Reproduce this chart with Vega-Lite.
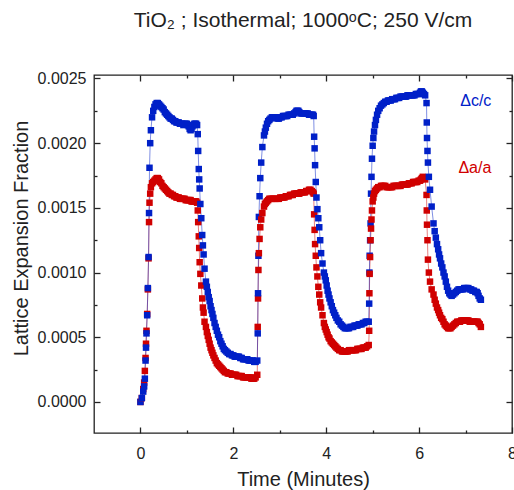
{
  "$schema": "https://vega.github.io/schema/vega-lite/v6.json",
  "width": 418,
  "height": 358,
  "autosize": {"type": "none"},
  "padding": {"left": 94, "top": 75, "right": 2, "bottom": 57},
  "config": {
    "view": {"stroke": "#222", "strokeWidth": 1.3},
    "font": "Liberation Sans",
    "axis": {"grid": false, "domain": false, "labelFont": "Liberation Sans", "titleFont": "Liberation Sans", "labelColor": "#222", "titleColor": "#222", "tickColor": "#222", "tickWidth": 1.3, "titleFontWeight": "normal"}
  },
  "title": {"text": "TiO₂ ; Isothermal; 1000ᵒC; 250 V/cm", "fontSize": 21, "fontWeight": "normal", "color": "#222", "anchor": "middle", "baseline": "alphabetic", "frame": "group", "offset": 22},
  "datasets": {
    "main": [
      {"t":0.00,"c":0.00000,"a":0.00000},
      {"t":0.03,"c":0.00003,"a":0.00003},
      {"t":0.06,"c":0.00008,"a":0.00010},
      {"t":0.08,"c":0.00012,"a":0.00015},
      {"t":0.095,"c":0.00018,"a":0.00024},
      {"t":0.11,"c":0.00032,"a":0.00034},
      {"t":0.12,"c":0.00042,"a":0.00045},
      {"t":0.13,"c":0.00053,"a":0.00055},
      {"t":0.145,"c":0.00067,"a":0.00068},
      {"t":0.16,"c":0.00088,"a":0.00087},
      {"t":0.175,"c":0.00112,"a":0.00111},
      {"t":0.185,"c":0.00146,"a":0.00139},
      {"t":0.195,"c":0.00181,"a":0.00154},
      {"t":0.21,"c":0.00200,"a":0.00161},
      {"t":0.225,"c":0.00210,"a":0.00166},
      {"t":0.25,"c":0.00220,"a":0.00169},
      {"t":0.275,"c":0.00225,"a":0.00170},
      {"t":0.30,"c":0.00228,"a":0.00171},
      {"t":0.325,"c":0.00230,"a":0.00172},
      {"t":0.35,"c":0.00231,"a":0.00173},
      {"t":0.375,"c":0.00231,"a":0.00173},
      {"t":0.40,"c":0.00230,"a":0.00172},
      {"t":0.425,"c":0.00229,"a":0.00170},
      {"t":0.45,"c":0.00228,"a":0.00169},
      {"t":0.475,"c":0.00227,"a":0.00167},
      {"t":0.50,"c":0.00226,"a":0.00166},
      {"t":0.525,"c":0.00224,"a":0.00165},
      {"t":0.55,"c":0.00223,"a":0.00164},
      {"t":0.575,"c":0.00222,"a":0.00163},
      {"t":0.60,"c":0.00221,"a":0.00162},
      {"t":0.625,"c":0.00220,"a":0.00161},
      {"t":0.65,"c":0.00219,"a":0.00161},
      {"t":0.675,"c":0.00219,"a":0.00160},
      {"t":0.70,"c":0.00218,"a":0.00160},
      {"t":0.725,"c":0.00217,"a":0.00159},
      {"t":0.75,"c":0.00217,"a":0.00159},
      {"t":0.775,"c":0.00216,"a":0.00158},
      {"t":0.80,"c":0.00216,"a":0.00158},
      {"t":0.825,"c":0.00216,"a":0.00158},
      {"t":0.85,"c":0.00215,"a":0.00157},
      {"t":0.875,"c":0.00215,"a":0.00157},
      {"t":0.90,"c":0.00215,"a":0.00157},
      {"t":0.925,"c":0.00214,"a":0.00157},
      {"t":0.95,"c":0.00215,"a":0.00157},
      {"t":0.975,"c":0.00215,"a":0.00156},
      {"t":1.00,"c":0.00215,"a":0.00156},
      {"t":1.02,"c":0.00214,"a":0.00156},
      {"t":1.04,"c":0.00213,"a":0.00156},
      {"t":1.06,"c":0.00211,"a":0.00156},
      {"t":1.08,"c":0.00210,"a":0.00156},
      {"t":1.10,"c":0.00211,"a":0.00155},
      {"t":1.12,"c":0.00213,"a":0.00155},
      {"t":1.14,"c":0.00214,"a":0.00155},
      {"t":1.16,"c":0.00215,"a":0.00155},
      {"t":1.18,"c":0.00215,"a":0.00155},
      {"t":1.20,"c":0.00215,"a":0.00155},
      {"t":1.22,"c":0.00214,"a":0.00154},
      {"t":1.234,"c":0.00207,"a":0.00148},
      {"t":1.243,"c":0.00194,"a":0.00139},
      {"t":1.256,"c":0.00180,"a":0.00128},
      {"t":1.265,"c":0.00172,"a":0.00119},
      {"t":1.275,"c":0.00165,"a":0.00108},
      {"t":1.29,"c":0.00153,"a":0.00099},
      {"t":1.31,"c":0.00142,"a":0.00090},
      {"t":1.33,"c":0.00129,"a":0.00080},
      {"t":1.345,"c":0.00121,"a":0.00073},
      {"t":1.36,"c":0.00114,"a":0.00069},
      {"t":1.38,"c":0.00103,"a":0.00062},
      {"t":1.41,"c":0.00093,"a":0.00058},
      {"t":1.43,"c":0.00089,"a":0.00054},
      {"t":1.45,"c":0.00085,"a":0.00051},
      {"t":1.47,"c":0.00081,"a":0.00048},
      {"t":1.49,"c":0.00078,"a":0.00045},
      {"t":1.51,"c":0.00074,"a":0.00042},
      {"t":1.53,"c":0.00071,"a":0.00040},
      {"t":1.55,"c":0.00068,"a":0.00038},
      {"t":1.57,"c":0.00065,"a":0.00036},
      {"t":1.595,"c":0.00061,"a":0.00034},
      {"t":1.62,"c":0.00058,"a":0.00032},
      {"t":1.645,"c":0.00055,"a":0.00030},
      {"t":1.67,"c":0.00052,"a":0.00029},
      {"t":1.695,"c":0.00050,"a":0.00028},
      {"t":1.72,"c":0.00047,"a":0.00027},
      {"t":1.745,"c":0.00045,"a":0.00026},
      {"t":1.77,"c":0.00043,"a":0.00025},
      {"t":1.795,"c":0.00041,"a":0.00024},
      {"t":1.82,"c":0.00040,"a":0.00023},
      {"t":1.85,"c":0.00039,"a":0.00023},
      {"t":1.88,"c":0.00038,"a":0.00022},
      {"t":1.91,"c":0.00037,"a":0.00022},
      {"t":1.94,"c":0.00037,"a":0.00022},
      {"t":1.97,"c":0.00036,"a":0.00021},
      {"t":2.00,"c":0.00036,"a":0.00021},
      {"t":2.03,"c":0.00035,"a":0.00021},
      {"t":2.06,"c":0.00035,"a":0.00021},
      {"t":2.09,"c":0.00035,"a":0.00020},
      {"t":2.12,"c":0.00035,"a":0.00020},
      {"t":2.15,"c":0.00034,"a":0.00020},
      {"t":2.18,"c":0.00034,"a":0.00020},
      {"t":2.21,"c":0.00033,"a":0.00019},
      {"t":2.24,"c":0.00033,"a":0.00019},
      {"t":2.27,"c":0.00033,"a":0.00019},
      {"t":2.30,"c":0.00033,"a":0.00019},
      {"t":2.33,"c":0.00032,"a":0.00019},
      {"t":2.36,"c":0.00032,"a":0.00019},
      {"t":2.39,"c":0.00032,"a":0.00018},
      {"t":2.42,"c":0.00032,"a":0.00018},
      {"t":2.45,"c":0.00031,"a":0.00018},
      {"t":2.48,"c":0.00031,"a":0.00019},
      {"t":2.515,"c":0.00032,"a":0.00021},
      {"t":2.525,"c":0.00053,"a":0.00058},
      {"t":2.532,"c":0.00084,"a":0.00080},
      {"t":2.54,"c":0.00113,"a":0.00102},
      {"t":2.55,"c":0.00143,"a":0.00115},
      {"t":2.565,"c":0.00159,"a":0.00126},
      {"t":2.58,"c":0.00173,"a":0.00135},
      {"t":2.60,"c":0.00185,"a":0.00141},
      {"t":2.625,"c":0.00197,"a":0.00146},
      {"t":2.66,"c":0.00206,"a":0.00151},
      {"t":2.68,"c":0.00209,"a":0.00153},
      {"t":2.70,"c":0.00212,"a":0.00154},
      {"t":2.725,"c":0.00215,"a":0.00155},
      {"t":2.75,"c":0.00217,"a":0.00156},
      {"t":2.775,"c":0.00218,"a":0.00157},
      {"t":2.80,"c":0.00219,"a":0.00157},
      {"t":2.83,"c":0.00220,"a":0.00157},
      {"t":2.86,"c":0.00220,"a":0.00157},
      {"t":2.89,"c":0.00220,"a":0.00157},
      {"t":2.92,"c":0.00220,"a":0.00157},
      {"t":2.95,"c":0.00219,"a":0.00157},
      {"t":2.98,"c":0.00219,"a":0.00157},
      {"t":3.01,"c":0.00220,"a":0.00158},
      {"t":3.04,"c":0.00220,"a":0.00158},
      {"t":3.07,"c":0.00221,"a":0.00158},
      {"t":3.10,"c":0.00221,"a":0.00158},
      {"t":3.13,"c":0.00221,"a":0.00159},
      {"t":3.16,"c":0.00221,"a":0.00159},
      {"t":3.19,"c":0.00222,"a":0.00159},
      {"t":3.22,"c":0.00222,"a":0.00160},
      {"t":3.25,"c":0.00222,"a":0.00160},
      {"t":3.28,"c":0.00222,"a":0.00160},
      {"t":3.31,"c":0.00223,"a":0.00161},
      {"t":3.34,"c":0.00224,"a":0.00161},
      {"t":3.36,"c":0.00225,"a":0.00161},
      {"t":3.38,"c":0.00225,"a":0.00161},
      {"t":3.40,"c":0.00225,"a":0.00161},
      {"t":3.42,"c":0.00224,"a":0.00161},
      {"t":3.45,"c":0.00223,"a":0.00162},
      {"t":3.48,"c":0.00223,"a":0.00162},
      {"t":3.51,"c":0.00223,"a":0.00162},
      {"t":3.54,"c":0.00223,"a":0.00162},
      {"t":3.57,"c":0.00223,"a":0.00163},
      {"t":3.60,"c":0.00223,"a":0.00163},
      {"t":3.63,"c":0.00222,"a":0.00164},
      {"t":3.66,"c":0.00222,"a":0.00164},
      {"t":3.69,"c":0.00222,"a":0.00163},
      {"t":3.715,"c":0.00222,"a":0.00162},
      {"t":3.73,"c":0.00221,"a":0.00161},
      {"t":3.74,"c":0.00205,"a":0.00145},
      {"t":3.75,"c":0.00196,"a":0.00133},
      {"t":3.76,"c":0.00183,"a":0.00122},
      {"t":3.775,"c":0.00170,"a":0.00113},
      {"t":3.79,"c":0.00158,"a":0.00104},
      {"t":3.81,"c":0.00149,"a":0.00097},
      {"t":3.83,"c":0.00142,"a":0.00089},
      {"t":3.85,"c":0.00135,"a":0.00083},
      {"t":3.87,"c":0.00125,"a":0.00077},
      {"t":3.89,"c":0.00115,"a":0.00073},
      {"t":3.92,"c":0.00107,"a":0.00067},
      {"t":3.95,"c":0.00100,"a":0.00061},
      {"t":3.97,"c":0.00097,"a":0.00058},
      {"t":3.99,"c":0.00094,"a":0.00056},
      {"t":4.01,"c":0.00090,"a":0.00054},
      {"t":4.03,"c":0.00086,"a":0.00052},
      {"t":4.05,"c":0.00083,"a":0.00050},
      {"t":4.07,"c":0.00080,"a":0.00049},
      {"t":4.095,"c":0.00077,"a":0.00047},
      {"t":4.12,"c":0.00074,"a":0.00046},
      {"t":4.145,"c":0.00071,"a":0.00045},
      {"t":4.17,"c":0.00069,"a":0.00044},
      {"t":4.195,"c":0.00067,"a":0.00043},
      {"t":4.22,"c":0.00065,"a":0.00042},
      {"t":4.25,"c":0.00063,"a":0.00041},
      {"t":4.28,"c":0.00062,"a":0.00040},
      {"t":4.31,"c":0.00060,"a":0.00040},
      {"t":4.34,"c":0.00059,"a":0.00039},
      {"t":4.37,"c":0.00058,"a":0.00039},
      {"t":4.40,"c":0.00057,"a":0.00039},
      {"t":4.43,"c":0.00057,"a":0.00039},
      {"t":4.46,"c":0.00057,"a":0.00039},
      {"t":4.49,"c":0.00057,"a":0.00040},
      {"t":4.52,"c":0.00058,"a":0.00040},
      {"t":4.55,"c":0.00058,"a":0.00040},
      {"t":4.58,"c":0.00058,"a":0.00040},
      {"t":4.61,"c":0.00059,"a":0.00040},
      {"t":4.64,"c":0.00059,"a":0.00040},
      {"t":4.67,"c":0.00059,"a":0.00041},
      {"t":4.70,"c":0.00060,"a":0.00041},
      {"t":4.73,"c":0.00060,"a":0.00041},
      {"t":4.76,"c":0.00060,"a":0.00041},
      {"t":4.79,"c":0.00061,"a":0.00042},
      {"t":4.82,"c":0.00061,"a":0.00042},
      {"t":4.85,"c":0.00062,"a":0.00042},
      {"t":4.88,"c":0.00062,"a":0.00043},
      {"t":4.915,"c":0.00062,"a":0.00044},
      {"t":4.925,"c":0.00076,"a":0.00055},
      {"t":4.93,"c":0.00100,"a":0.00084},
      {"t":4.935,"c":0.00113,"a":0.00099},
      {"t":4.945,"c":0.00125,"a":0.00112},
      {"t":4.955,"c":0.00138,"a":0.00125},
      {"t":4.965,"c":0.00161,"a":0.00134},
      {"t":4.975,"c":0.00174,"a":0.00141},
      {"t":4.985,"c":0.00188,"a":0.00148},
      {"t":5.00,"c":0.00198,"a":0.00155},
      {"t":5.015,"c":0.00204,"a":0.00158},
      {"t":5.03,"c":0.00209,"a":0.00161},
      {"t":5.05,"c":0.00214,"a":0.00163},
      {"t":5.07,"c":0.00218,"a":0.00164},
      {"t":5.095,"c":0.00222,"a":0.00165},
      {"t":5.12,"c":0.00225,"a":0.00166},
      {"t":5.15,"c":0.00227,"a":0.00166},
      {"t":5.18,"c":0.00229,"a":0.00167},
      {"t":5.21,"c":0.00230,"a":0.00167},
      {"t":5.24,"c":0.00231,"a":0.00167},
      {"t":5.27,"c":0.00232,"a":0.00167},
      {"t":5.30,"c":0.00232,"a":0.00166},
      {"t":5.33,"c":0.00233,"a":0.00166},
      {"t":5.36,"c":0.00233,"a":0.00166},
      {"t":5.39,"c":0.00233,"a":0.00166},
      {"t":5.42,"c":0.00234,"a":0.00166},
      {"t":5.45,"c":0.00234,"a":0.00167},
      {"t":5.48,"c":0.00234,"a":0.00167},
      {"t":5.51,"c":0.00235,"a":0.00167},
      {"t":5.54,"c":0.00235,"a":0.00167},
      {"t":5.57,"c":0.00235,"a":0.00167},
      {"t":5.60,"c":0.00236,"a":0.00167},
      {"t":5.63,"c":0.00236,"a":0.00168},
      {"t":5.66,"c":0.00236,"a":0.00168},
      {"t":5.69,"c":0.00236,"a":0.00168},
      {"t":5.72,"c":0.00236,"a":0.00168},
      {"t":5.75,"c":0.00237,"a":0.00168},
      {"t":5.78,"c":0.00237,"a":0.00169},
      {"t":5.81,"c":0.00237,"a":0.00169},
      {"t":5.84,"c":0.00237,"a":0.00169},
      {"t":5.87,"c":0.00237,"a":0.00170},
      {"t":5.90,"c":0.00237,"a":0.00170},
      {"t":5.93,"c":0.00238,"a":0.00170},
      {"t":5.96,"c":0.00238,"a":0.00170},
      {"t":5.99,"c":0.00238,"a":0.00171},
      {"t":6.02,"c":0.00239,"a":0.00171},
      {"t":6.04,"c":0.00240,"a":0.00172},
      {"t":6.06,"c":0.00240,"a":0.00173},
      {"t":6.08,"c":0.00239,"a":0.00174},
      {"t":6.105,"c":0.00238,"a":0.00173},
      {"t":6.13,"c":0.00237,"a":0.00172},
      {"t":6.16,"c":0.00231,"a":0.00160},
      {"t":6.165,"c":0.00216,"a":0.00148},
      {"t":6.17,"c":0.00204,"a":0.00137},
      {"t":6.18,"c":0.00194,"a":0.00125},
      {"t":6.19,"c":0.00185,"a":0.00110},
      {"t":6.21,"c":0.00174,"a":0.00100},
      {"t":6.235,"c":0.00164,"a":0.00093},
      {"t":6.27,"c":0.00151,"a":0.00087},
      {"t":6.31,"c":0.00138,"a":0.00083},
      {"t":6.335,"c":0.00132,"a":0.00079},
      {"t":6.36,"c":0.00127,"a":0.00076},
      {"t":6.385,"c":0.00122,"a":0.00073},
      {"t":6.41,"c":0.00118,"a":0.00071},
      {"t":6.43,"c":0.00114,"a":0.00069},
      {"t":6.45,"c":0.00111,"a":0.00067},
      {"t":6.475,"c":0.00107,"a":0.00065},
      {"t":6.50,"c":0.00104,"a":0.00064},
      {"t":6.525,"c":0.00100,"a":0.00062},
      {"t":6.55,"c":0.00097,"a":0.00060},
      {"t":6.575,"c":0.00093,"a":0.00059},
      {"t":6.60,"c":0.00089,"a":0.00058},
      {"t":6.625,"c":0.00086,"a":0.00057},
      {"t":6.65,"c":0.00084,"a":0.00057},
      {"t":6.675,"c":0.00083,"a":0.00057},
      {"t":6.70,"c":0.00082,"a":0.00058},
      {"t":6.73,"c":0.00083,"a":0.00059},
      {"t":6.76,"c":0.00084,"a":0.00060},
      {"t":6.79,"c":0.00085,"a":0.00061},
      {"t":6.82,"c":0.00086,"a":0.00062},
      {"t":6.85,"c":0.00087,"a":0.00062},
      {"t":6.88,"c":0.00087,"a":0.00062},
      {"t":6.91,"c":0.00087,"a":0.00063},
      {"t":6.94,"c":0.00087,"a":0.00063},
      {"t":6.97,"c":0.00088,"a":0.00063},
      {"t":7.00,"c":0.00088,"a":0.00063},
      {"t":7.03,"c":0.00088,"a":0.00063},
      {"t":7.06,"c":0.00088,"a":0.00063},
      {"t":7.09,"c":0.00087,"a":0.00062},
      {"t":7.12,"c":0.00087,"a":0.00062},
      {"t":7.15,"c":0.00086,"a":0.00062},
      {"t":7.18,"c":0.00086,"a":0.00062},
      {"t":7.21,"c":0.00085,"a":0.00062},
      {"t":7.24,"c":0.00085,"a":0.00062},
      {"t":7.26,"c":0.00084,"a":0.00062},
      {"t":7.28,"c":0.00082,"a":0.00061},
      {"t":7.305,"c":0.00080,"a":0.00060},
      {"t":7.33,"c":0.00079,"a":0.00058}
    ],
    "labels": [
      {"t": 7.22, "v": 0.002324, "s": "c", "label": "Δc/c"},
      {"t": 7.20, "v": 0.00181, "s": "a", "label": "Δa/a"}
    ]
  },
  "resolve": {"axis": {"x": "independent", "y": "independent"}},
  "layer": [
    {
      "data": {"name": "main"},
      "transform": [{"fold": ["a", "c"], "as": ["s", "v"]}],
      "mark": {"type": "line", "strokeWidth": 1, "opacity": 0.5},
      "encoding": {
        "x": {"field": "t", "type": "quantitative", "scale": {"domain": [-1, 8], "nice": false, "zero": false},
          "axis": {"orient": "bottom", "values": [0, 2, 4, 6, 8], "ticks": false, "labelPadding": 12, "labelFontSize": 16, "labelFlush": false, "labelOverlap": false, "title": "Time (Minutes)", "titleFontSize": 20, "titleBaseline": "alphabetic", "titleY": 52}},
        "y": {"field": "v", "type": "quantitative", "scale": {"domain": [-0.00024, 0.002527], "nice": false, "zero": false},
          "axis": {"orient": "left", "values": [0, 0.0005, 0.001, 0.0015, 0.002, 0.0025], "format": ".4f", "ticks": false, "labelPadding": 8, "labelFontSize": 16, "title": "Lattice Expansion Fraction", "titleFontSize": 20, "titleAngle": -90, "titleAlign": "center", "titleBaseline": "middle", "titleX": -73, "titleY": 163}},
        "color": {"field": "s", "type": "nominal", "scale": {"domain": ["a", "c"], "range": ["#d00000", "#0020c8"]}, "legend": null},
        "order": {"field": "t", "type": "quantitative"}
      }
    },
    {
      "data": {"name": "main"},
      "transform": [{"fold": ["a", "c"], "as": ["s", "v"]}],
      "mark": {"type": "point", "shape": "square", "filled": true, "size": 42, "opacity": 1},
      "encoding": {
        "x": {"field": "t", "type": "quantitative", "scale": {"domain": [-1, 8], "nice": false, "zero": false},
          "axis": {"orient": "bottom", "values": [0, 2, 4, 6, 8], "labels": false, "title": null, "tickSize": -6}},
        "y": {"field": "v", "type": "quantitative", "scale": {"domain": [-0.00024, 0.002527], "nice": false, "zero": false},
          "axis": {"orient": "left", "values": [0, 0.0005, 0.001, 0.0015, 0.002, 0.0025], "labels": false, "title": null, "tickSize": -6}},
        "color": {"field": "s", "type": "nominal", "scale": {"domain": ["a", "c"], "range": ["#d00000", "#0020c8"]}, "legend": null}
      }
    },
    {
      "data": {"name": "labels"},
      "mark": {"type": "text", "fontSize": 16, "align": "center", "baseline": "middle", "font": "Liberation Sans"},
      "encoding": {
        "x": {"field": "t", "type": "quantitative", "scale": {"domain": [-1, 8], "nice": false, "zero": false},
          "axis": {"orient": "bottom", "values": [1, 3, 5, 7], "labels": false, "title": null, "tickSize": -3}},
        "y": {"field": "v", "type": "quantitative", "scale": {"domain": [-0.00024, 0.002527], "nice": false, "zero": false},
          "axis": {"orient": "left", "values": [0.00025, 0.00075, 0.00125, 0.00175, 0.00225], "labels": false, "title": null, "tickSize": -3}},
        "text": {"field": "label"},
        "color": {"field": "s", "type": "nominal", "scale": {"domain": ["a", "c"], "range": ["#d00000", "#0020c8"]}, "legend": null}
      }
    },
    {
      "data": {"name": "labels"},
      "mark": {"type": "point", "opacity": 0},
      "encoding": {
        "x": {"field": "t", "type": "quantitative", "scale": {"domain": [-1, 8], "nice": false, "zero": false},
          "axis": {"orient": "top", "values": [0, 2, 4, 6, 8], "labels": false, "title": null, "tickSize": -6}},
        "y": {"field": "v", "type": "quantitative", "scale": {"domain": [-0.00024, 0.002527], "nice": false, "zero": false},
          "axis": {"orient": "right", "values": [0, 0.0005, 0.001, 0.0015, 0.002, 0.0025], "labels": false, "title": null, "tickSize": -6}}
      }
    },
    {
      "data": {"name": "labels"},
      "mark": {"type": "point", "opacity": 0},
      "encoding": {
        "x": {"field": "t", "type": "quantitative", "scale": {"domain": [-1, 8], "nice": false, "zero": false},
          "axis": {"orient": "top", "values": [1, 3, 5, 7], "labels": false, "title": null, "tickSize": -3}},
        "y": {"field": "v", "type": "quantitative", "scale": {"domain": [-0.00024, 0.002527], "nice": false, "zero": false},
          "axis": {"orient": "right", "values": [0.00025, 0.00075, 0.00125, 0.00175, 0.00225], "labels": false, "title": null, "tickSize": -3}}
      }
    }
  ]
}
